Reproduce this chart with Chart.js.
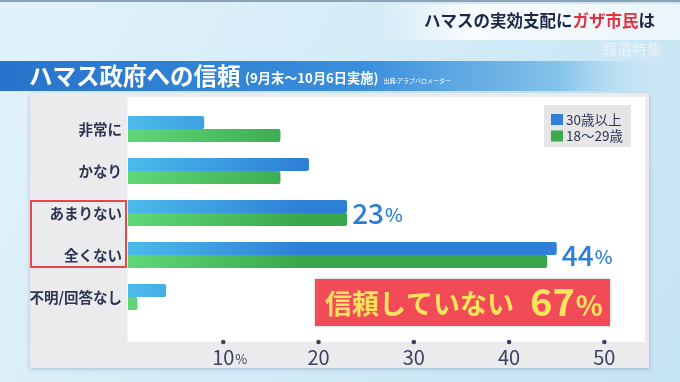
<!DOCTYPE html>
<html>
<head>
<meta charset="utf-8">
<script src="https://cdn.jsdelivr.net/npm/chart.js@4.4.0/dist/chart.umd.min.js"></script>
<style>
	html, body { margin: 0; padding: 0; }
	body { width: 680px; height: 382px; overflow: hidden; background: #d6ecf7; }
	canvas { display: block; }
</style>
</head>
<body>
<canvas id="trustChart" width="680" height="382"></canvas>
<script>
const categories = ['非常に', 'かなり', 'あまりない', '全くない', '不明/回答なし'];
const over30 = [8, 19, 23, 45, 4];
const age18to29 = [16, 16, 23, 44, 1];
const seriesNames = ['30歳以上', '18〜29歳'];
const xTicks = [10, 20, 30, 40, 50];
const calloutValues = [null, null, 23, 44, null];
const distrustTotal = 67;

const FONT = '"Noto Sans CJK JP", "Noto Sans", sans-serif';
const NAVY = '#2d3552';
const BLUE = '#2f7fd5';
const GREEN = '#3caa4f';

function barGradient(ctx, light, dark, fallback) {
	const area = ctx.chart.chartArea;
	if (!area) return fallback;
	const g = ctx.chart.ctx.createLinearGradient(area.left, 0, area.left + 175, 0);
	g.addColorStop(0, light);
	g.addColorStop(1, dark);
	return g;
}

// background, banner, titles and the grey/white panel
const backdrop = {
	id: 'backdrop',
	beforeDraw(chart) {
		const c = chart.ctx;
		c.save();
		let bg = c.createLinearGradient(0, 0, 680, 382);
		bg.addColorStop(0, '#e2f2fa');
		bg.addColorStop(0.5, '#d3ebf7');
		bg.addColorStop(1, '#c4e3f3');
		c.fillStyle = bg;
		c.fillRect(0, 0, 680, 382);
		c.fillStyle = '#8aa3b5';
		c.fillRect(0, 0, 680, 2);

		// white glow behind top title
		let glow = c.createLinearGradient(380, 0, 680, 0);
		glow.addColorStop(0, 'rgba(255,255,255,0)');
		glow.addColorStop(0.3, 'rgba(255,255,255,0.85)');
		glow.addColorStop(1, 'rgba(255,255,255,0.6)');
		c.fillStyle = glow;
		c.fillRect(380, 4, 300, 36);

		c.textBaseline = 'middle';
		c.font = 'bold 16.5px ' + FONT;
		let x = 424;
		const parts = [['ハマスの実効支配に', '#1c2748'], ['ガザ市民', '#e3313f'], ['は', '#1c2748']];
		parts.forEach(([t, col]) => {
			c.fillStyle = col;
			c.fillText(t, x, 21);
			x += c.measureText(t).width;
		});

		c.font = '15px ' + FONT;
		c.fillStyle = 'rgba(255,255,255,0.55)';
		c.fillText('報道特集', 602, 49);

		// blue banner
		let bn = c.createLinearGradient(0, 0, 660, 0);
		bn.addColorStop(0, '#2773cb');
		bn.addColorStop(0.55, '#3a8fdb');
		bn.addColorStop(0.85, '#86c3ea');
		bn.addColorStop(1, 'rgba(190,225,245,0)');
		c.fillStyle = bn;
		c.fillRect(0, 61, 660, 30);

		c.fillStyle = '#ffffff';
		c.font = 'bold 23.5px ' + FONT;
		c.fillText('ハマス政府への信頼', 29, 76);
		c.font = 'bold 13.2px ' + FONT;
		const sub = '(9月末〜10月6日実施)';
		c.fillText(sub, 245, 78);
		const sw = c.measureText(sub).width;
		c.font = '6px ' + FONT;
		c.fillText('出典:アラブバロメーター', 245 + sw + 5, 81);

		// panel
		c.shadowColor = 'rgba(60,100,130,0.35)';
		c.shadowBlur = 4;
		c.shadowOffsetY = 1;
		c.fillStyle = '#ebebed';
		c.fillRect(30, 93, 619, 275);
		c.shadowColor = 'transparent';
		c.fillStyle = '#ffffff';
		c.fillRect(127.5, 97, 517.5, 245);
		c.restore();
	}
};

// legend, tick dots/labels, callouts and the red boxes
const overlay = {
	id: 'overlay',
	afterDraw(chart) {
		const c = chart.ctx;
		const xs = chart.scales.x;
		const ys = chart.scales.y;
		c.save();
		c.textBaseline = 'middle';

		// x ticks
		xTicks.forEach((v, i) => {
			const px = xs.getPixelForValue(v);
			c.fillStyle = '#3a4262';
			c.beginPath();
			c.arc(px, 342, 2.3, 0, Math.PI * 2);
			c.fill();
			c.font = '20px ' + FONT;
			c.textAlign = 'center';
			c.fillText(String(v), px, 357);
			if (i === 0) {
				const w = c.measureText(String(v)).width;
				c.font = '13px ' + FONT;
				c.textAlign = 'left';
				c.fillText('%', px + w / 2 + 1, 359);
			}
		});

		// legend
		c.fillStyle = '#e6e6e8';
		c.fillRect(544, 105, 87, 42);
		[BLUE, GREEN].forEach((col, i) => {
			const y = 119.5 + i * 16.5;
			c.fillStyle = col;
			c.fillRect(551, y - 5.5, 12, 11);
			c.fillStyle = NAVY;
			c.font = '13.5px ' + FONT;
			c.textAlign = 'left';
			c.fillText(seriesNames[i], 566, y);
		});

		// callout values
		calloutValues.forEach((v, i) => {
			if (v === null) return;
			const px = xs.getPixelForValue(Math.max(over30[i], age18to29[i])) + 5;
			const py = ys.getPixelForValue(i);
			c.fillStyle = BLUE;
			c.textAlign = 'left';
			c.font = '500 28px ' + FONT;
			c.fillText(String(v), px, py);
			const w = c.measureText(String(v)).width;
			c.font = '500 19px ' + FONT;
			c.fillText('%', px + w + 1, py + 2);
		});

		// red outline round the two "no trust" labels
		c.strokeStyle = '#e5474b';
		c.lineWidth = 2;
		const top = ys.getPixelForValue(2) - 12;
		const bottom = ys.getPixelForValue(3) + 12;
		c.strokeRect(31, top, 95, bottom - top);

		// total box
		c.shadowColor = 'rgba(0,0,0,0.25)';
		c.shadowBlur = 3;
		c.fillStyle = '#f14b57';
		c.fillRect(315, 279, 295, 47);
		c.shadowColor = 'transparent';
		c.fillStyle = '#ffe35c';
		c.font = 'bold 27px ' + FONT;
		c.fillText('信頼していない', 325, 304);
		c.font = 'bold 38px ' + FONT;
		const t = String(distrustTotal);
		c.fillText(t, 530, 302);
		const tw = c.measureText(t).width;
		c.font = 'bold 28px ' + FONT;
		c.fillText('%', 530 + tw + 1, 305);
		c.restore();
	}
};

new Chart(document.getElementById('trustChart'), {
	type: 'bar',
	data: {
		labels: categories,
		datasets: [{
			label: seriesNames[0],
			data: over30,
			backgroundColor: (ctx) => barGradient(ctx, '#4bbbea', '#2e7fd6', BLUE),
			borderRadius: 2,
			borderSkipped: 'start'
		}, {
			label: seriesNames[1],
			data: age18to29,
			backgroundColor: (ctx) => barGradient(ctx, '#5fd878', '#3aa64c', GREEN),
			borderRadius: 2,
			borderSkipped: 'start'
		}]
	},
	options: {
		indexAxis: 'y',
		responsive: false,
		animation: false,
		devicePixelRatio: 1,
		layout: { padding: { top: 108, bottom: 64, left: 0, right: 28 } },
		datasets: { bar: { categoryPercentage: 0.62, barPercentage: 1 } },
		plugins: { legend: { display: false }, tooltip: { enabled: false } },
		scales: {
			x: { type: 'linear', min: 0, max: 55, display: false },
			y: {
				grid: { display: false, drawTicks: false },
				border: { display: false },
				afterFit: (scale) => { scale.width = 128; },
				ticks: {
					color: NAVY,
					padding: 6,
					font: { family: FONT, size: 14.5, weight: 'bold' }
				}
			}
		}
	},
	plugins: [backdrop, overlay]
});
</script>
</body>
</html>
